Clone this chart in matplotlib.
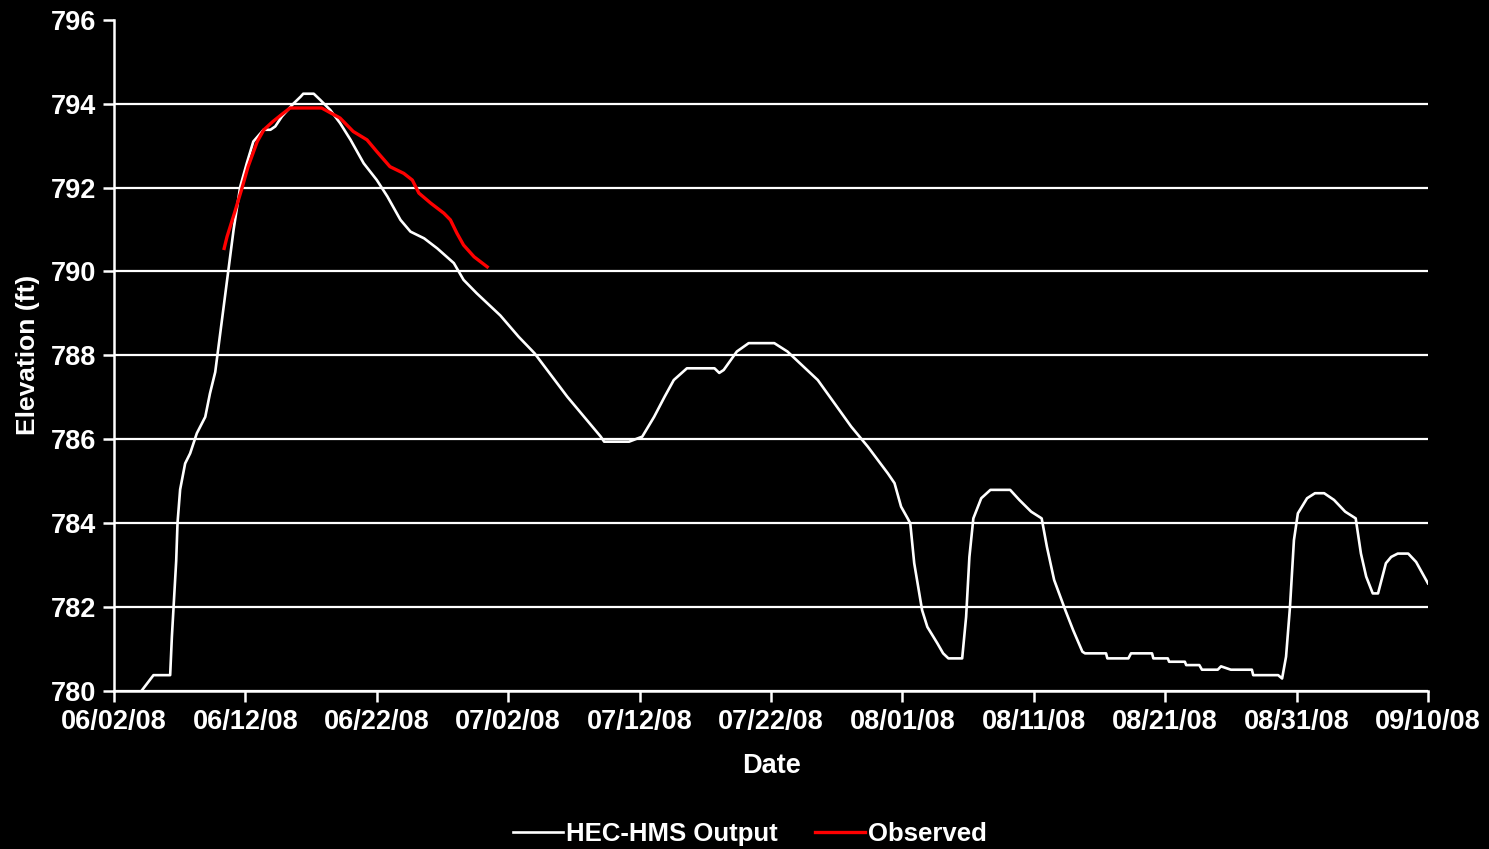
import numpy as np
import matplotlib
matplotlib.use("Agg")
import matplotlib.pyplot as plt
import matplotlib.dates as mdates
from datetime import datetime, timedelta

# days after 06/02/08 and elevation (ft)
hms_days = [2.1, 3.0, 4.27, 4.4, 4.57, 4.73, 4.83, 5.03, 5.41, 5.79, 6.3, 6.94, 7.3, 7.7,
            8.7, 9.1, 9.6, 10.1, 10.6, 11.38, 11.9, 12.27, 12.78, 13.67, 14.2, 14.4, 15.2,
            15.7, 16.46, 17.2, 18.0, 19.0, 20.0, 20.8, 21.8, 22.56, 23.6, 24.6, 25.86, 26.6,
            27.6, 29.4, 30.8, 32.0, 34.5, 37.04, 37.3, 39.2, 40.2, 41.1, 41.9, 42.6, 43.6,
            45.7, 46.06, 46.4, 47.4, 48.3, 50.25, 51.25, 53.56, 56.1, 57.37, 58.9, 59.4,
            59.9, 60.4, 60.6, 60.9, 61.5, 61.9, 62.66, 63.1, 63.5, 64.55, 64.85, 65.1, 65.4,
            66.0, 66.7, 68.2, 68.9, 69.8, 70.6, 71.0, 71.55, 72.4, 73.0, 73.7, 73.9, 75.5,
            75.6, 77.2, 77.4, 79.0, 79.1, 80.2, 80.3, 81.5, 81.6, 82.6, 82.8, 84.0, 84.25,
            85.0, 86.6, 86.7, 88.6, 88.9, 89.2, 89.5, 89.8, 90.1, 90.8, 91.4, 92.1, 92.85,
            93.7, 94.5, 94.9, 95.3, 95.8, 96.2, 96.8, 97.2, 97.7, 98.5, 99.1, 100.0]
hms_elev = [780.0, 780.37, 780.37, 781.28, 782.24, 783.1, 784.0, 784.8, 785.42, 785.66,
            786.14, 786.53, 787.09, 787.6, 790.04, 791.0, 792.02, 792.58, 793.1, 793.38,
            793.38, 793.46, 793.7, 794.01, 794.17, 794.24, 794.24, 794.09, 793.85, 793.54,
            793.14, 792.58, 792.18, 791.79, 791.23, 790.95, 790.79, 790.55, 790.2, 789.8,
            789.48, 788.95, 788.44, 788.05, 787.01, 786.06, 785.94, 785.94, 786.06, 786.53,
            787.01, 787.41, 787.69, 787.69, 787.58, 787.65, 788.09, 788.29, 788.29, 788.09,
            787.41, 786.3, 785.82, 785.18, 784.95, 784.39, 784.11, 783.99, 783.04, 781.92,
            781.52, 781.13, 780.89, 780.77, 780.77, 781.76, 783.19, 784.11, 784.59, 784.79,
            784.79, 784.55, 784.27, 784.11, 783.43, 782.64, 781.92, 781.44, 780.93, 780.89,
            780.89, 780.77, 780.77, 780.89, 780.89, 780.77, 780.77, 780.69, 780.69, 780.61,
            780.61, 780.5, 780.5, 780.58, 780.5, 780.5, 780.37, 780.37, 780.29, 780.81,
            782.0, 783.59, 784.23, 784.59, 784.71, 784.71, 784.55, 784.27, 784.11, 783.27,
            782.72, 782.32, 782.32, 783.04, 783.19, 783.27, 783.27, 783.07, 782.56]

obs_days = [8.38, 8.6, 9.2, 9.7, 10.2, 10.9, 11.4, 12.1, 12.9, 13.4, 15.8, 16.5, 17.2, 18.2,
            19.25, 20.0, 21.0, 22.05, 22.7, 23.2, 24.1, 25.1, 25.6, 26.1, 26.6, 27.4, 28.4]
obs_elev = [790.55, 790.83, 791.43, 791.95, 792.5, 793.1, 793.38, 793.58, 793.78, 793.9,
            793.9, 793.78, 793.66, 793.34, 793.14, 792.86, 792.5, 792.34, 792.18, 791.87,
            791.63, 791.39, 791.23, 790.91, 790.63, 790.35, 790.11]

start = datetime(2008, 6, 2)
hms_dates = [start + timedelta(days=d) for d in hms_days]
obs_dates = [start + timedelta(days=d) for d in obs_days]

plt.rcParams['font.family'] = ['Liberation Sans', 'DejaVu Sans']
plt.rcParams['font.weight'] = 'bold'

fig = plt.figure(figsize=(14.89, 8.49), dpi=100, facecolor='black')
ax = fig.add_axes([0.0766, 0.1865, 0.8824, 0.79])
ax.set_facecolor('black')

ax.plot(hms_dates, hms_elev, color='white', lw=1.9, label='HEC-HMS Output')
ax.plot(obs_dates, obs_elev, color='#ff0000', lw=2.4, label='Observed')

ax.set_xlim(start, start + timedelta(days=100))
ax.set_ylim(780, 796)
ax.set_xticks([start + timedelta(days=10 * i) for i in range(11)])
ax.xaxis.set_major_formatter(mdates.DateFormatter('%m/%d/%y'))
ax.set_yticks(np.arange(780, 797, 2))

ax.grid(axis='y', color='white', lw=1.6)
ax.get_ygridlines()[-1].set_visible(False)
ax.set_axisbelow(True)
for s in ['top', 'right']:
    ax.spines[s].set_visible(False)
for s in ['left', 'bottom']:
    ax.spines[s].set_color('white')
    ax.spines[s].set_linewidth(1.8)
ax.tick_params(colors='white', labelsize=19.5, width=1.8, length=8, pad=5)

ax.set_xlabel('Date', color='white', fontsize=19.5, fontweight='bold', labelpad=13)
ax.set_ylabel('Elevation (ft)', color='white', fontsize=19, fontweight='bold', labelpad=8)

leg = ax.legend(loc='upper center', bbox_to_anchor=(0.484, -0.162), ncol=2, frameon=False,
                fontsize=18.5, handlelength=1.95, handletextpad=0.12, columnspacing=1.45)
for t in leg.get_texts():
    t.set_color('white')

fig.savefig('out.png', dpi=100, facecolor='black')
